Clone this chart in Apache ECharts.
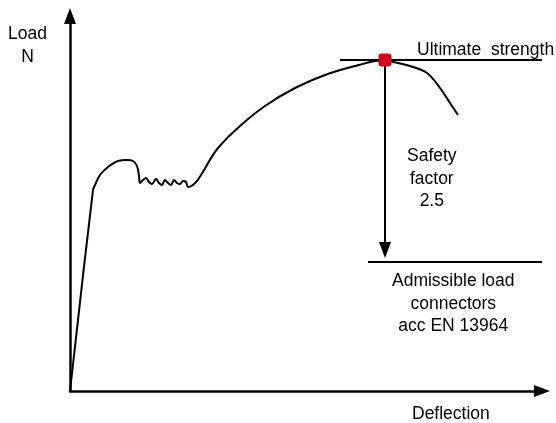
<!DOCTYPE html>
<html>
<head>
<meta charset="utf-8">
<script src="https://cdn.jsdelivr.net/npm/echarts@6/dist/echarts.min.js"></script>
<style>
  html, body { margin: 0; padding: 0; background: #fff; }
  #chart { width: 556px; height: 423px; }
</style>
</head>
<body>
<div id="chart"></div>
<script>
// schematic load / deflection curve (arbitrary units)
const deflection = [0, 23, 25, 30, 38, 48, 57, 63, 67, 69, 70, 73, 76, 79, 82, 86, 89, 92, 95, 98, 101, 104, 107, 110, 113, 116, 118, 148, 170, 195, 225, 255, 285, 315, 323, 340, 357, 370, 380, 388]
const load = [0, 201, 206, 216, 224, 230, 231, 230, 225, 215, 208, 211, 213, 209, 207, 212, 208, 206, 211, 208, 206, 211, 208, 207, 210, 209, 204, 243, 265, 285, 303, 316, 325, 331, 329, 325, 318, 303, 288, 276]

const peak = [315, 331]            // ultimate strength point
const ultimateLineX = [270, 472]   // horizontal line through the peak
const admissibleLoad = 129         // ultimate / safety factor level
const admissibleLineX = [298, 472]
const safetyArrowEnd = 141

const xMax = 472
const yMax = 375

const chart = echarts.init(document.getElementById('chart'))
const font = 'Liberation Sans, Arial, sans-serif'
const textStyle = (text, align) => ({ text, fill: '#000', font: '17.5px ' + font, textAlign: align, lineHeight: 22.5 })

chart.setOption({
  animation: false,
  grid: { left: 70, right: 14, top: 16, bottom: 32 },
  xAxis: {
    type: 'value', min: 0, max: xMax,
    axisLine: { onZero: false, symbol: ['none', 'triangle'], symbolSize: [12, 16], lineStyle: { color: '#000', width: 2.5 } },
    axisTick: { show: false }, axisLabel: { show: false }, splitLine: { show: false }
  },
  yAxis: {
    type: 'value', min: 0, max: yMax,
    axisLine: { show: true, onZero: false, symbol: ['none', 'triangle'], symbolSize: [12, 16], lineStyle: { color: '#000', width: 2.5 } },
    axisTick: { show: false }, axisLabel: { show: false }, splitLine: { show: false }
  },
  series: [{
    type: 'line',
    data: deflection.map((x, i) => [x, load[i]]),
    smooth: 0.35,
    showSymbol: false,
    lineStyle: { color: '#000', width: 2 },
    markLine: {
      silent: true,
      symbol: 'none',
      lineStyle: { color: '#000', width: 2, type: 'solid' },
      label: { show: false },
      data: [
        [{ coord: [ultimateLineX[0], peak[1]] }, { coord: [ultimateLineX[1], peak[1]] }],
        [{ coord: [admissibleLineX[0], admissibleLoad] }, { coord: [admissibleLineX[1], admissibleLoad] }],
        [{ coord: [peak[0], peak[1]], symbol: 'none' }, { coord: [peak[0], safetyArrowEnd], symbol: 'triangle', symbolSize: [12, 16] }]
      ]
    },
    markPoint: {
      silent: true,
      symbol: 'roundRect',
      symbolSize: 13,
      itemStyle: { color: '#d2001e' },
      label: { show: false },
      data: [{ coord: peak }]
    }
  }],
  graphic: [
    { type: 'text', left: 8, top: 23, style: textStyle('Load\nN', 'center') },
    { type: 'text', left: 417, top: 39, style: textStyle('Ultimate  strength', 'left') },
    { type: 'text', left: 407, top: 145, style: textStyle('Safety\nfactor\n2.5', 'center') },
    { type: 'text', left: 392, top: 270, style: textStyle('Admissible load\nconnectors\nacc EN 13964', 'center') },
    { type: 'text', left: 412, top: 403, style: textStyle('Deflection', 'left') }
  ]
})
</script>
</body>
</html>
